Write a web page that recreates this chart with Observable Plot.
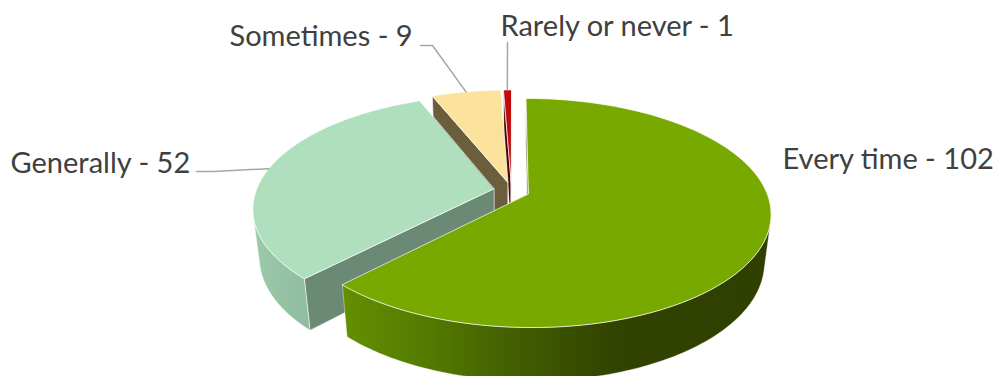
<!DOCTYPE html>
<html>
<head>
<meta charset="utf-8">
<script src="https://cdn.jsdelivr.net/npm/d3@7"></script>
<script src="https://cdn.jsdelivr.net/npm/@observablehq/plot@0.6"></script>
<style>
  html, body { margin: 0; padding: 0; background: #fff; overflow: hidden; }
  svg { display: block; }
</style>
</head>
<body>
<div id="chart"></div>
<script>
// Survey answers, clockwise from twelve o'clock
const categories = ["Every time", "Generally", "Sometimes", "Rarely or never"];
const counts = [102, 52, 9, 1];

// Tilted, perspective view of an exploded pie
const view = {cx: 511, cy: 190, radius: 237.5, tiltY: 110.2, tiltW: -0.168, depthY: 49, depthW: 0.025, explode: 0.0765};

const topColors = ["#77a900", "#b0dfbd", "#fbe29d", "#c20a0a"];
const cutColors = ["#6d7f4a", "#6b8a76", "#6a5e3d", "#4a0606"];
const wallColors = ["url(#wall-green)", "url(#wall-mint)", "#6a5e3d", "#4a0606"];

// Label placement: left edge and baseline, plus the elbow of each leader
const labelSpots = [
  {x: 782, y: 168, leader: null},
  {x: 10, y: 172, leader: [[196, 171], [213, 171]]},
  {x: 229, y: 45, leader: [[420, 45], [432, 45]]},
  {x: 500, y: 35, leader: [[507, 42]]}
];

const project = (u, v, z = 0) => {
  const w = 1 + view.tiltW * v + view.depthW * z;
  return {
    x: view.cx + (view.radius * u) / w,
    y: view.cy + (view.tiltY * v + view.depthY * z) / w
  };
};

const arcs = d3.pie().sort(null)(counts);

// A point of a slice: r is the share of the radius, a the clockwise angle
const slicePoint = (arc, r, a, z = 0) => {
  const mid = (arc.startAngle + arc.endAngle) / 2;
  const u = view.explode * Math.sin(mid) + r * Math.sin(a);
  const v = -view.explode * Math.cos(mid) - r * Math.cos(a);
  return project(u, v, z);
};

const angleSteps = (arc) => d3.range(0, 161).map((k) => arc.startAngle + (k / 160) * (arc.endAngle - arc.startAngle));

const signedArea = (pts) => d3.sum(pts, (p, i) => {
  const q = pts[(i + 1) % pts.length];
  return p.x * q.y - q.x * p.y;
});

const cutFace = (arc, a) => [
  slicePoint(arc, 0, a), slicePoint(arc, 1, a), slicePoint(arc, 1, a, 1), slicePoint(arc, 0, a, 1)
];

// Only the part of the rim that turns toward the viewer
const wallFace = (arc) => {
  const angles = angleSteps(arc);
  const step = angles[1] - angles[0];
  const seen = angles.filter((a) => signedArea([
    slicePoint(arc, 1, a), slicePoint(arc, 1, a + step), slicePoint(arc, 1, a + step, 1), slicePoint(arc, 1, a, 1)
  ]) < 0);
  if (!seen.length) return null;
  return [...seen.map((a) => slicePoint(arc, 1, a)), ...seen.slice().reverse().map((a) => slicePoint(arc, 1, a, 1))];
};
const topFace = (arc) => [slicePoint(arc, 0, arc.startAngle), ...angleSteps(arc).map((a) => slicePoint(arc, 1, a))];

const polygon = (points, fill, strokeOpacity = 0.85) => Plot.line(points, {
  x: "x", y: "y", fill, stroke: "#ffffff", strokeWidth: 0.8, strokeOpacity, curve: "linear-closed"
});

// Paint the small slices at the back first, the big front slice last
const sliceMarks = [3, 2, 1, 0].flatMap((i) => {
  const arc = arcs[i];
  const marks = [];
  const wall = wallFace(arc);
  if (wall) marks.push(polygon(wall, wallColors[i], 0.5));
  const startCut = cutFace(arc, arc.startAngle);
  const endCut = cutFace(arc, arc.endAngle);
  if (signedArea(startCut) < 0) marks.push(polygon(startCut, cutColors[i]));
  if (signedArea(endCut) > 0) marks.push(polygon(endCut, cutColors[i]));
  marks.push(polygon(topFace(arc), topColors[i]));
  return marks;
});

const leaderMarks = labelSpots.flatMap((spot, i) => {
  if (!spot.leader) return [];
  const arc = arcs[i];
  const end = slicePoint(arc, 1, (arc.startAngle + arc.endAngle) / 2);
  const points = [...spot.leader.map(([x, y]) => ({x, y})), end];
  return [Plot.line(points, {x: "x", y: "y", stroke: "#a6a6a6", strokeWidth: 1.5})];
});

const labelRows = categories.map((name, i) => ({
  text: `${name} - ${counts[i]}`, x: labelSpots[i].x, y: labelSpots[i].y
}));

// Gradients for the outer walls of the slices
const wallGradients = () => {
  const defs = d3.create("svg:defs");
  const add = (id, x1, x2, stops) => {
    const g = defs.append("linearGradient").attr("id", id)
      .attr("gradientUnits", "userSpaceOnUse")
      .attr("x1", x1).attr("x2", x2).attr("y1", 0).attr("y2", 0);
    stops.forEach(([offset, color]) => g.append("stop").attr("offset", offset).attr("stop-color", color));
  };
  add("wall-green", 345, 772, [[0, "#638f00"], [0.2, "#537a00"], [0.356, "#456300"], [0.62, "#324300"], [1, "#2f3f00"]]);
  add("wall-mint", 255, 310, [[0, "#9cc9aa"], [1, "#8fbb9e"]]);
  return defs.node();
};

const chart = Plot.plot({
  width: 994,
  height: 376,
  margin: 0,
  x: {domain: [0, 994], range: [0, 994], axis: null},
  y: {domain: [0, 376], range: [0, 376], axis: null},
  style: {background: "#ffffff", overflow: "hidden"},
  marks: [
    wallGradients,
    ...sliceMarks,
    ...leaderMarks,
    Plot.text(labelRows, {
      x: "x", y: "y", text: "text", textAnchor: "start", lineAnchor: "bottom",
      fontFamily: "Lato", fontSize: 29, fill: "#404040"
    })
  ]
});
document.getElementById("chart").append(chart);
</script>
</body>
</html>
